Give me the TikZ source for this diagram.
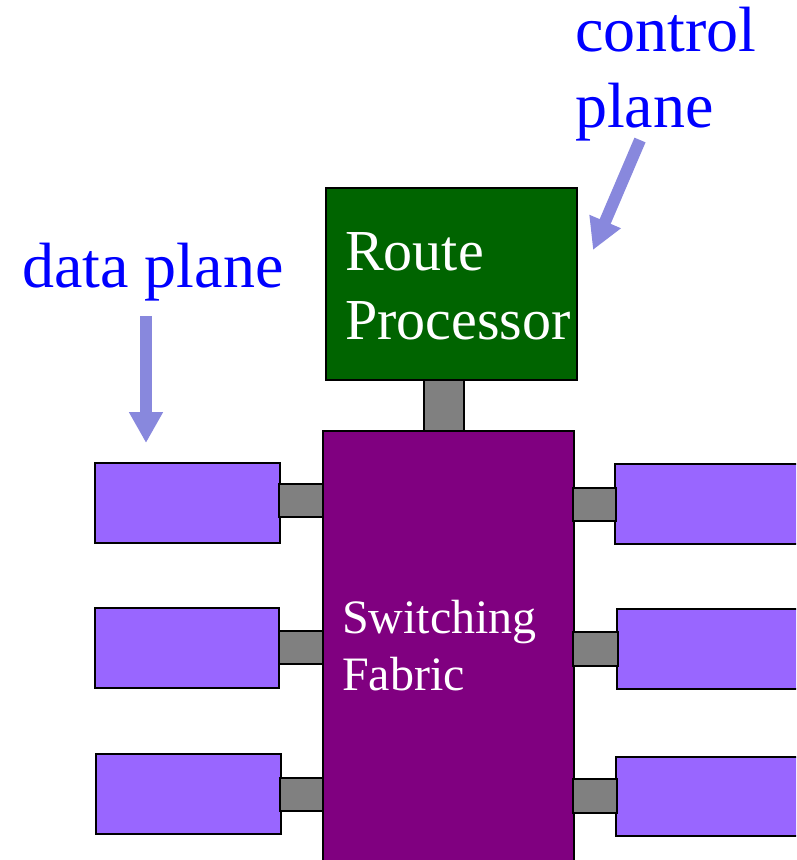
\documentclass[tikz,border=0pt]{standalone}
\usepackage{fontspec}
\setmainfont{Liberation Serif}
\usetikzlibrary{arrows.meta}
\definecolor{rpgreen}{RGB}{0,100,0}
\definecolor{fabric}{RGB}{128,0,128}
\definecolor{card}{RGB}{153,102,255}
\definecolor{link}{RGB}{128,128,128}
\definecolor{labelblue}{RGB}{0,0,255}
\definecolor{arrowc}{RGB}{136,136,221}
\tikzset{
  box/.style={draw=black, line width=2pt},
  lbl/.style={inner sep=0pt, anchor=base west, align=left},
  pointer/.style={draw=arrowc, line width=12pt, -{Triangle[length=31pt,width=32pt]}},
}
\newcommand{\rectnode}[6]{% name, fill, x1, y1, x2, y2
  \node[box, fill=#2, inner sep=0pt, anchor=north west,
        minimum width={(#5-#3)*1pt}, minimum height={(#6-#4)*1pt}] (#1) at (#3,#4) {};}
\begin{document}
\begin{tikzpicture}[x=1pt,y=-1pt]
\useasboundingbox (0,0) rectangle (796,860);
\clip (0,0) rectangle (796,860);
% route processor and link
\rectnode{rplink}{link}{423}{378}{463}{431}
\rectnode{rp}{rpgreen}{325}{187}{576}{379}
% switching fabric
\rectnode{sf}{fabric}{322}{430}{573}{870}
% left line cards and links
\rectnode{l1}{card}{94}{462}{279}{542}
\rectnode{l2}{card}{94}{607}{278}{687}
\rectnode{l3}{card}{95}{753}{280}{833}
\rectnode{ll1}{link}{278}{483}{322}{516}
\rectnode{ll2}{link}{278}{630}{322}{663}
\rectnode{ll3}{link}{279}{777}{322}{810}
% right line cards and links
\rectnode{r1}{card}{614}{463}{810}{543}
\rectnode{r2}{card}{616}{608}{810}{688}
\rectnode{r3}{card}{615}{756}{810}{835}
\rectnode{rl1}{link}{572}{487}{615}{520}
\rectnode{rl2}{link}{572}{631}{617}{665}
\rectnode{rl3}{link}{572}{778}{616}{812}
% labels in boxes (base anchor = baseline of last line)
\node[lbl, text=white, font=\fontsize{58}{69}\selectfont] (rpt) at (345,339) {Route\\Processor};
\node[lbl, text=white, font=\fontsize{48}{57}\selectfont] (sft) at (342,690) {Switching\\Fabric};
% plane labels
\node[lbl, text=labelblue, font=\fontsize{64}{76}\selectfont] (cp) at (575,127) {control\\plane};
\node[lbl, text=labelblue, font=\fontsize{64}{76}\selectfont] (dp) at (22,287) {data plane};
% arrows
\coordinate (cpa) at (640,140);
\coordinate (cpb) at (593,250);
\coordinate (dpa) at (146,316);
\coordinate (dpb) at (146,443);
\draw[pointer] (cpa) -- (cpb);
\draw[pointer] (dpa) -- (dpb);
\end{tikzpicture}
\end{document}
